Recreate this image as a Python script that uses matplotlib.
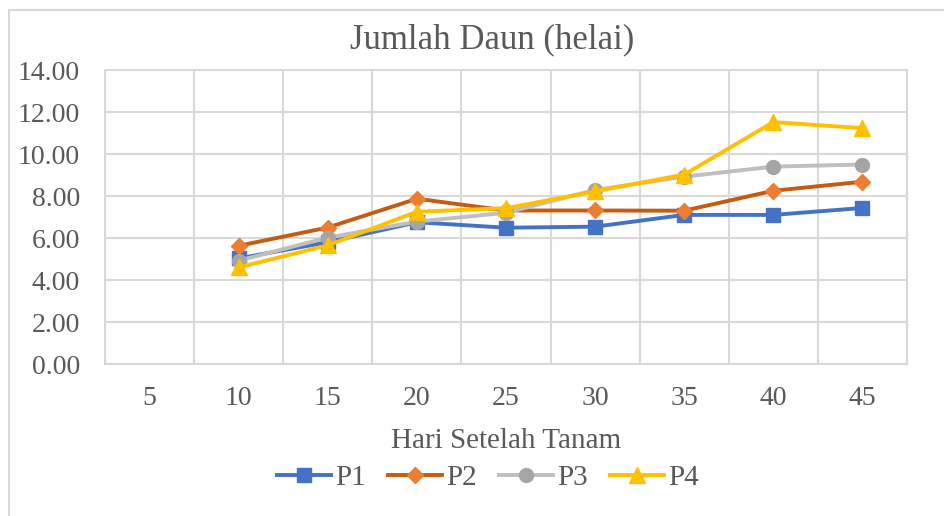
import numpy as np
import matplotlib
matplotlib.use('Agg')
import matplotlib.pyplot as plt
from matplotlib.patches import Rectangle

matplotlib.rcParams['font.family'] = ['Liberation Serif', 'DejaVu Serif']

days = ['5', '10', '15', '20', '25', '30', '35', '40', '45']
p1 = [np.nan, 5.03, 5.80, 6.75, 6.49, 6.54, 7.10, 7.10, 7.43]
p2 = [np.nan, 5.63, 6.50, 7.87, 7.31, 7.31, 7.30, 8.25, 8.68]
p3 = [np.nan, 4.92, 6.02, 6.78, 7.20, 8.29, 8.92, 9.40, 9.50]
p4 = [np.nan, 4.60, 5.65, 7.25, 7.42, 8.22, 9.02, 11.52, 11.23]

series = [
    ('P1', p1, '#4472C4', '#4472C4', 's', 10),
    ('P2', p2, '#C55A11', '#ED7D31', 'D', 8),
    ('P3', p3, '#BFBFBF', '#A5A5A5', 'o', 10),
    ('P4', p4, '#FFC000', '#FFC000', '^', 11),
]

txt = '#595959'
grid = '#D9D9D9'

fig = plt.figure(figsize=(9.45, 5.16), dpi=100)
ax = fig.add_axes([105/945, 1-364/516, (907-105)/945, (364-70)/516])

x = np.arange(len(days))
for name, vals, lc, mc, mk, ms in series:
    ax.plot(x, vals, color=lc, lw=2.8, marker=mk, markersize=ms,
            markerfacecolor=mc, markeredgecolor=mc, label=name, zorder=3)

ax.set_xlim(-0.5, len(days) - 0.5)
ax.set_ylim(0, 14)
ax.set_yticks(np.arange(0, 14.01, 2))
ax.set_yticklabels(['%.2f' % v for v in np.arange(0, 14.01, 2)])
ax.set_xticks(x)
ax.set_xticklabels(days)
ax.set_xticks(np.arange(-0.5, len(days), 1), minor=True)
ax.tick_params(axis='both', which='both', length=0, labelsize=20, colors=txt)
ax.tick_params(axis='x', pad=16)
ax.tick_params(axis='y', pad=18)

ax.grid(True, axis='y', which='major', color=grid, lw=1.5)
ax.grid(True, axis='x', which='minor', color=grid, lw=1.5)
ax.set_axisbelow(True)
for s in ax.spines.values():
    s.set_color(grid)
    s.set_linewidth(1.5)

fig.text(492/945, 1-40/516, 'Jumlah Daun (helai)', fontsize=25, color=txt,
         ha='center', va='center')
ax.set_xlabel('Hari Setelah Tanam', fontsize=21, color=txt, labelpad=12)

leg = fig.legend(loc='center', bbox_to_anchor=(488/945, 1-478/516), ncol=4,
                 frameon=False, fontsize=21, handlelength=1.85,
                 handletextpad=0.15, columnspacing=0.75, labelcolor=txt)

fig.patches.append(Rectangle((9/945, -0.1), 1.2, 1-10/516+0.1,
                             transform=fig.transFigure, fill=False,
                             edgecolor=grid, lw=1.5))

fig.savefig('out.png', dpi=100)
